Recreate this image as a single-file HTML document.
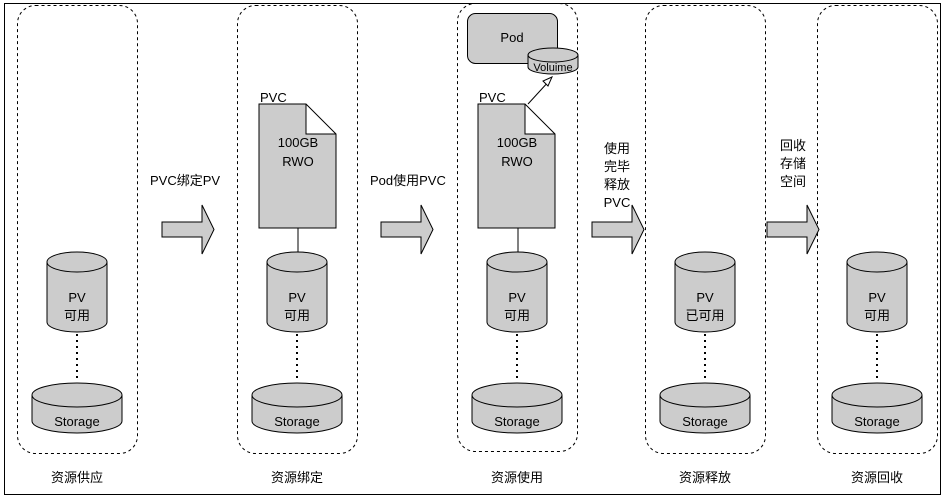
<!DOCTYPE html>
<html><head><meta charset="utf-8"><style>
body{margin:0;background:#fff}
svg text{font-family:"Liberation Sans","Noto Sans CJK SC",sans-serif;font-size:13px;fill:#000}
</style></head><body>
<svg width="944" height="499" viewBox="0 0 944 499" xmlns="http://www.w3.org/2000/svg">
<rect x="4.5" y="3.5" width="936" height="491" fill="none" stroke="#000" stroke-width="1"/>
<defs>
<g id="pv">
<path d="M0,10 L0,70 A30,10 0 0 0 60,70 L60,10" fill="#ccc" stroke="#000"/>
<ellipse cx="30" cy="10" rx="30" ry="10" fill="#ccc" stroke="#000"/>
</g>
<g id="st">
<path d="M0,12 L0,38 A45,12 0 0 0 90,38 L90,12" fill="#ccc" stroke="#000"/>
<ellipse cx="45" cy="12" rx="45" ry="12" fill="#ccc" stroke="#000"/>
</g>
<path id="arr" d="M0,17 L40,17 L40,0 L52,24.5 L40,49 L40,32 L0,32 Z" fill="#ccc" stroke="#000"/>
<path id="doc" d="M0,0 L47,0 L77,30 L77,124 L0,124 Z M47,0 L47,30 L77,30" fill="#ccc" stroke="#000"/>
</defs>
<g fill="none" stroke="#000" stroke-dasharray="3,3">
<rect x="17.5" y="5.5" width="120" height="448" rx="18"/>
<rect x="237.5" y="5.5" width="120" height="448" rx="18"/>
<rect x="457.5" y="3.5" width="120" height="448" rx="18"/>
<rect x="645.5" y="5.5" width="120" height="448" rx="18"/>
<rect x="817.5" y="5.5" width="120" height="448" rx="18"/>
</g>
<g stroke="#000" stroke-width="2" stroke-dasharray="2,4">
<line x1="77" y1="334" x2="77" y2="382"/><line x1="297" y1="334" x2="297" y2="382"/>
<line x1="517" y1="334" x2="517" y2="382"/><line x1="705" y1="334" x2="705" y2="382"/>
<line x1="877" y1="334" x2="877" y2="382"/>
</g>
<use href="#pv" x="47" y="252"/><use href="#pv" x="267" y="252"/><use href="#pv" x="487" y="252"/><use href="#pv" x="675" y="252"/><use href="#pv" x="847" y="252"/>
<use href="#st" x="32" y="383"/><use href="#st" x="252" y="383"/><use href="#st" x="472" y="383"/><use href="#st" x="660" y="383"/><use href="#st" x="832" y="383"/>
<g text-anchor="middle">
<text x="77" y="302">PV</text><text x="77" y="320">可用</text>
<text x="297" y="302">PV</text><text x="297" y="320">可用</text>
<text x="517" y="302">PV</text><text x="517" y="320">可用</text>
<text x="705" y="302">PV</text><text x="705" y="320">已可用</text>
<text x="877" y="302">PV</text><text x="877" y="320">可用</text>
<text x="77" y="426">Storage</text><text x="297" y="426">Storage</text><text x="517" y="426">Storage</text><text x="705" y="426">Storage</text><text x="877" y="426">Storage</text>
<text x="77" y="482">资源供应</text><text x="297" y="482">资源绑定</text><text x="517" y="482">资源使用</text><text x="705" y="482">资源释放</text><text x="877" y="482">资源回收</text>
</g>
<use href="#arr" x="162" y="205"/><use href="#arr" x="381" y="205"/><use href="#arr" x="592" y="205"/><use href="#arr" x="767" y="205"/>
<text x="150" y="185">PVC绑定PV</text>
<text x="370" y="185">Pod使用PVC</text>
<g text-anchor="middle"><text x="617" y="153">使用</text><text x="617" y="171">完毕</text><text x="617" y="189">释放</text><text x="617" y="207">PVC</text>
<text x="793" y="150">回收</text><text x="793" y="168">存储</text><text x="793" y="186">空间</text></g>
<line x1="298" y1="228" x2="298" y2="252" stroke="#000"/>
<line x1="518" y1="228" x2="518" y2="252" stroke="#000"/>
<use href="#doc" x="259" y="104"/><use href="#doc" x="478" y="104"/>
<text x="260" y="102">PVC</text><text x="479" y="102">PVC</text>
<g text-anchor="middle"><text x="298" y="147">100GB</text><text x="298" y="166">RWO</text>
<text x="517" y="147">100GB</text><text x="517" y="166">RWO</text></g>
<rect x="467.5" y="13.5" width="90" height="50" rx="8" fill="#ccc" stroke="#000"/>
<text x="512" y="42" text-anchor="middle">Pod</text>
<path d="M528,55 L528,67 A25,7 0 0 0 578,67 L578,55" fill="#ccc" stroke="#000"/>
<ellipse cx="553" cy="55" rx="25" ry="7" fill="#ccc" stroke="#000"/>
<text x="553" y="71" text-anchor="middle" style="font-size:11px">Voluime</text>
<line x1="528" y1="104" x2="550" y2="80" stroke="#000"/>
<path d="M552,77 L543,81 L548,86 Z" fill="#fff" stroke="#000"/>
</svg>
</body></html>
